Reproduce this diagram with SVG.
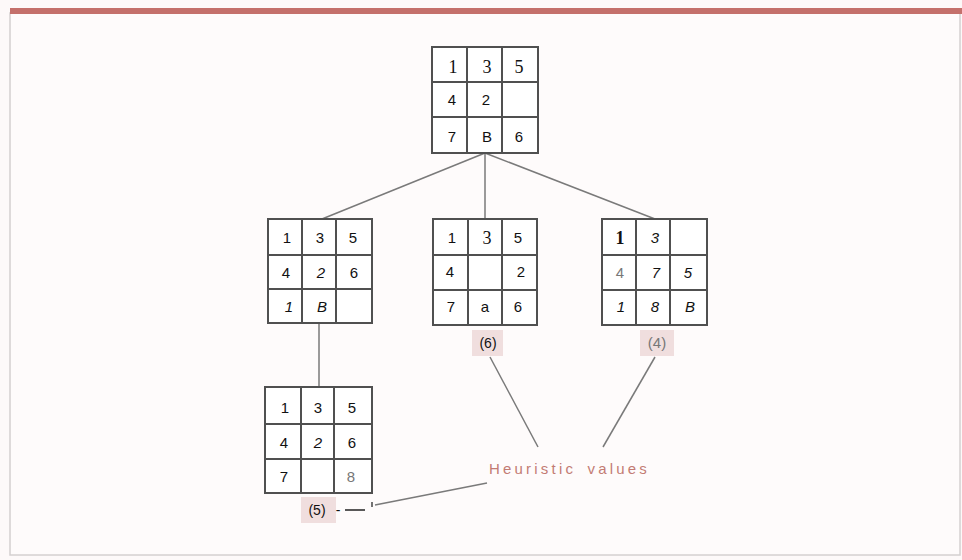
<svg xmlns="http://www.w3.org/2000/svg" width="962" height="560" viewBox="0 0 962 560">
<style>
.bg{fill:#fdf9f9}
.frame{fill:#fefbfb;stroke:#d4d0d0;stroke-width:1.5}
.bar{fill:#c4706b}
.grid{fill:#ffffff;stroke:#505050;stroke-width:2}
.gl{stroke:#505050;stroke-width:2}
.t{font-family:"Liberation Sans",Arial,sans-serif;font-size:15px;fill:#111;text-anchor:middle}
.s{font-family:"Liberation Serif","Times New Roman",serif;font-size:18px}
.i{font-style:italic}
.b{font-weight:bold}
.g{fill:#777}
.conn line{stroke:#7a7a7a;stroke-width:1.5}
.hb{fill:#f0dede}
.hv{font-family:"Liberation Sans",Arial,sans-serif;font-size:15px;fill:#c37b74;letter-spacing:3.2px;word-spacing:4px}
</style>
<rect class="bg" x="0" y="0" width="962" height="560"/>
<rect class="frame" x="10" y="13" width="950" height="542"/>
<rect class="bar" x="10" y="8" width="952" height="6"/>

<g id="connectors" class="conn">
<line x1="485" y1="153" x2="322" y2="219"/>
<line x1="485" y1="153" x2="485" y2="219"/>
<line x1="485" y1="153" x2="655" y2="219"/>
<line x1="319" y1="323" x2="319" y2="387"/>
<line x1="490" y1="357" x2="538" y2="447"/>
<line x1="655" y1="357" x2="603" y2="447"/>
<line x1="487" y1="483" x2="375" y2="505"/>
</g>

<g id="root">
<rect class="grid" x="432" y="47" width="106" height="106"/>
<line class="gl" x1="467" y1="47" x2="467" y2="153"/>
<line class="gl" x1="502" y1="47" x2="502" y2="153"/>
<line class="gl" x1="432" y1="82" x2="538" y2="82"/>
<line class="gl" x1="432" y1="117" x2="538" y2="117"/>
<text class="t s" x="453" y="73">1</text>
<text class="t s" x="487" y="73">3</text>
<text class="t s" x="519" y="73">5</text>
<text class="t" x="452" y="105">4</text>
<text class="t" x="486" y="105">2</text>
<text class="t" x="452" y="142">7</text>
<text class="t" x="487" y="142">B</text>
<text class="t" x="519" y="142">6</text>
</g>

<g id="left">
<rect class="grid" x="268" y="219" width="104" height="104"/>
<line class="gl" x1="302" y1="219" x2="302" y2="323"/>
<line class="gl" x1="336" y1="219" x2="336" y2="323"/>
<line class="gl" x1="268" y1="255" x2="372" y2="255"/>
<line class="gl" x1="268" y1="289" x2="372" y2="289"/>
<text class="t" x="287" y="243">1</text>
<text class="t" x="320" y="243">3</text>
<text class="t" x="353" y="243">5</text>
<text class="t" x="286" y="278">4</text>
<text class="t i" x="321" y="278">2</text>
<text class="t" x="354" y="278">6</text>
<text class="t i" x="289" y="312">1</text>
<text class="t i" x="322" y="312">B</text>
</g>

<g id="middle">
<rect class="grid" x="433" y="219" width="104" height="106"/>
<line class="gl" x1="468" y1="219" x2="468" y2="325"/>
<line class="gl" x1="502" y1="219" x2="502" y2="325"/>
<line class="gl" x1="433" y1="255" x2="537" y2="255"/>
<line class="gl" x1="433" y1="290" x2="537" y2="290"/>
<text class="t" x="452" y="243">1</text>
<text class="t s" x="487" y="244">3</text>
<text class="t" x="518" y="243">5</text>
<text class="t" x="450" y="277">4</text>
<text class="t" x="521" y="277">2</text>
<text class="t" x="451" y="312">7</text>
<text class="t" x="485" y="312">a</text>
<text class="t" x="518" y="312">6</text>
<g id="h6">
<rect class="hb" x="472" y="330" width="31" height="26"/>
<text class="t" x="488" y="348" style="font-size:14px">(6)</text>
</g>
</g>

<g id="right">
<rect class="grid" x="602" y="219" width="105" height="106"/>
<line class="gl" x1="636" y1="219" x2="636" y2="325"/>
<line class="gl" x1="670" y1="219" x2="670" y2="325"/>
<line class="gl" x1="602" y1="255" x2="707" y2="255"/>
<line class="gl" x1="602" y1="290" x2="707" y2="290"/>
<text class="t s b" x="620" y="244">1</text>
<text class="t i" x="655" y="243">3</text>
<text class="t g" x="620" y="278">4</text>
<text class="t i" x="656" y="278">7</text>
<text class="t i" x="688" y="278">5</text>
<text class="t i" x="621" y="312">1</text>
<text class="t i" x="655" y="312">8</text>
<text class="t i" x="690" y="312">B</text>
<g id="h4">
<rect class="hb" x="640" y="330" width="34" height="26"/>
<text class="t g" x="657" y="348" style="font-size:15px">(4)</text>
</g>
</g>

<g id="bottom">
<rect class="grid" x="265" y="387" width="107" height="106"/>
<line class="gl" x1="301" y1="387" x2="301" y2="493"/>
<line class="gl" x1="334" y1="387" x2="334" y2="493"/>
<line class="gl" x1="265" y1="424" x2="372" y2="424"/>
<line class="gl" x1="265" y1="459" x2="372" y2="459"/>
<text class="t" x="285" y="413">1</text>
<text class="t" x="318" y="413">3</text>
<text class="t" x="352" y="413">5</text>
<text class="t" x="284" y="448">4</text>
<text class="t i" x="318" y="448">2</text>
<text class="t" x="352" y="448">6</text>
<text class="t" x="284" y="482">7</text>
<text class="t g" x="351" y="482">8</text>
<g id="h5">
<rect class="hb" x="301" y="497" width="35" height="26"/>
<text class="t" x="317" y="515" style="font-size:14px">(5)</text>
<text class="t" x="338" y="515" style="font-size:14px">-</text>
<line x1="345" y1="510" x2="365" y2="510" stroke="#222" stroke-width="1.5"/>
<line x1="372" y1="502" x2="372" y2="507" stroke="#444" stroke-width="1.5"/>
</g>
</g>

<g id="label">
<text class="hv" x="489" y="474">Heuristic values</text>
</g>
</svg>
